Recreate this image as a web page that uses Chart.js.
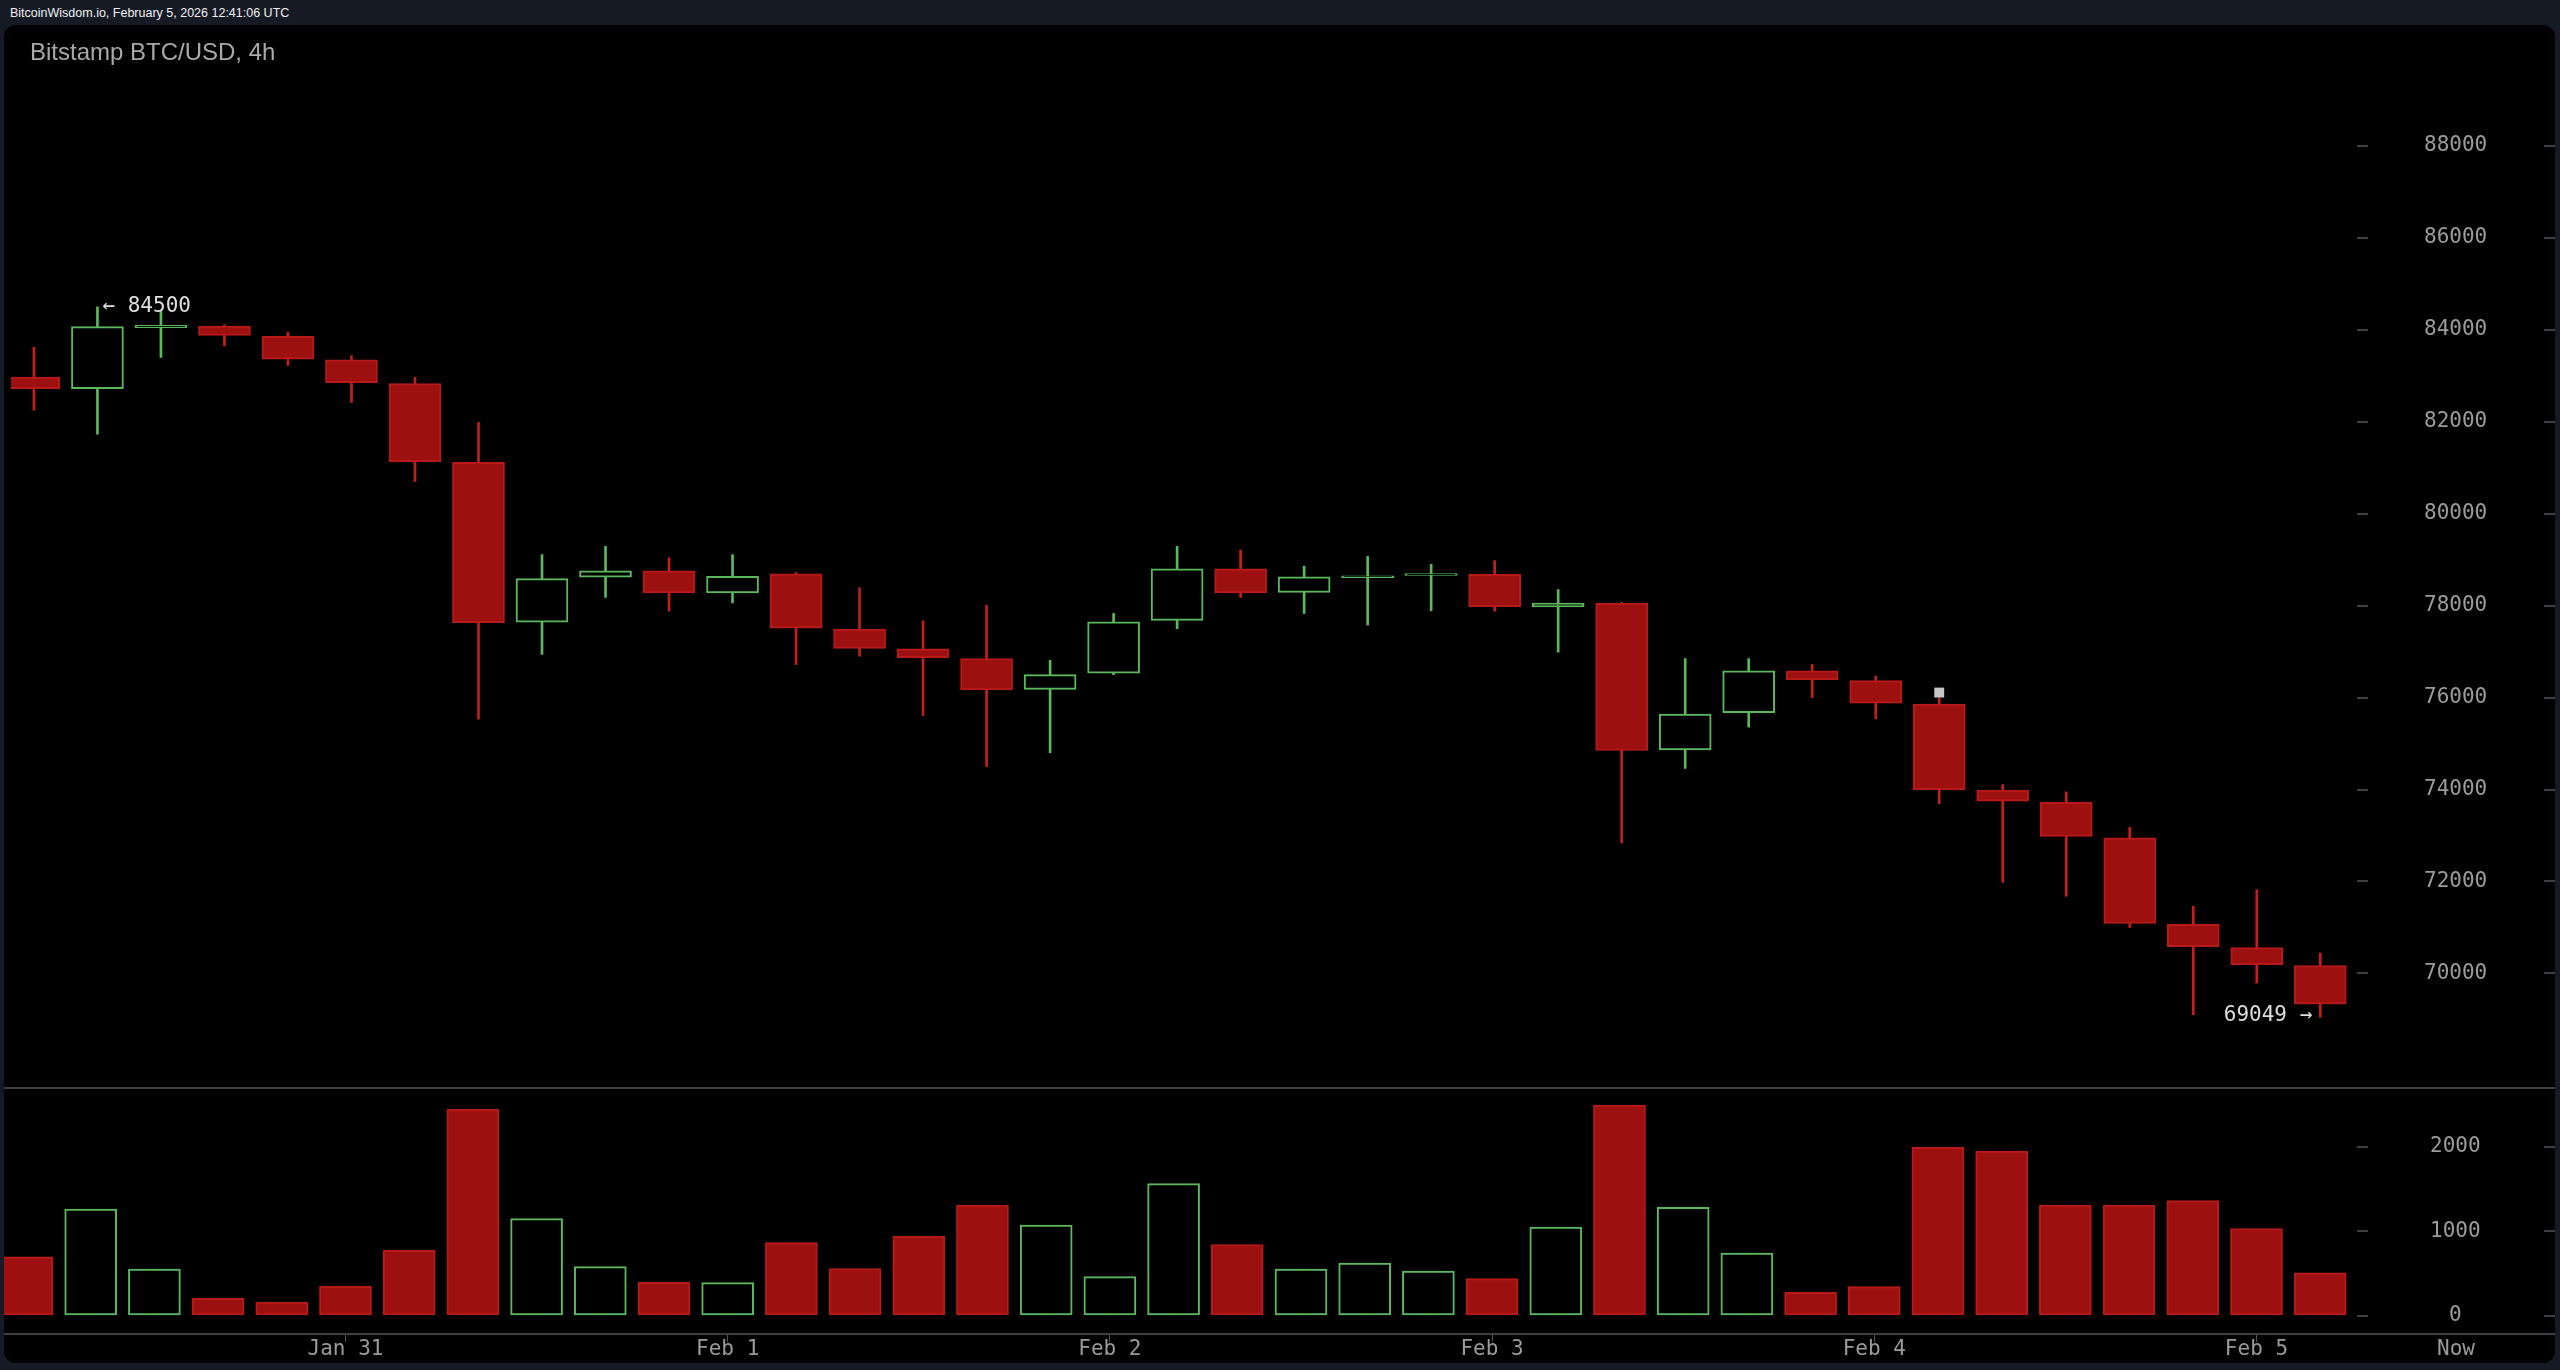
<!DOCTYPE html>
<html>
<head>
<meta charset="utf-8">
<title>Bitstamp BTC/USD, 4h</title>
<script src="https://cdn.jsdelivr.net/npm/chart.js@4.4.1/dist/chart.umd.min.js"></script>
<style>
  html, body { margin: 0; padding: 0; background: #161a25; overflow: hidden; }
  #stamp { position: absolute; left: 10px; top: 7px; font: 12.5px/13px "Liberation Sans", Arial, sans-serif; color: #f0f0f0; }
  #panel { position: absolute; left: 4px; top: 25px; width: 2551px; height: 1338px; background: #000; border-radius: 12px; overflow: hidden; }
  #panel canvas { position: absolute; left: 0; display: block; }
  #priceChart { top: 0; }
  #volChart { top: 1062px; }
  #title { position: absolute; left: 26px; top: 15px; font: 24px/24px "Liberation Sans", Arial, sans-serif; color: #a9a9a9; }
</style>
</head>
<body>
<div id="stamp">BitcoinWisdom.io, February 5, 2026 12:41:06 UTC</div>
<div id="panel">
  <canvas id="priceChart" width="2551" height="1062"></canvas>
  <canvas id="volChart" width="2551" height="276"></canvas>
  <div id="title">Bitstamp BTC/USD, 4h</div>
</div>
<script>
// 4h candles, UTC
const times = [
    "Jan 30 04:00", "Jan 30 08:00", "Jan 30 12:00", "Jan 30 16:00", "Jan 30 20:00",
    "Jan 31 00:00", "Jan 31 04:00", "Jan 31 08:00", "Jan 31 12:00", "Jan 31 16:00", "Jan 31 20:00",
    "Feb 1 00:00", "Feb 1 04:00", "Feb 1 08:00", "Feb 1 12:00", "Feb 1 16:00", "Feb 1 20:00",
    "Feb 2 00:00", "Feb 2 04:00", "Feb 2 08:00", "Feb 2 12:00", "Feb 2 16:00", "Feb 2 20:00",
    "Feb 3 00:00", "Feb 3 04:00", "Feb 3 08:00", "Feb 3 12:00", "Feb 3 16:00", "Feb 3 20:00",
    "Feb 4 00:00", "Feb 4 04:00", "Feb 4 08:00", "Feb 4 12:00", "Feb 4 16:00", "Feb 4 20:00",
    "Feb 5 00:00", "Feb 5 04:00"
];

const opens = [
    82970, 82720, 84050, 84080, 83860, 83350, 82830, 81120, 77640, 78620, 78760,
    78280, 78690, 77490, 77060, 76850, 76180, 76530, 77680, 78800, 78290, 78610,
    78660, 78680, 77975, 78050, 74860, 75670, 76580, 76370, 75860, 73990, 73720,
    72950, 71070, 70560, 70170
];
const highs = [
    83620, 84500, 84400, 84110, 83950, 83440, 82970, 81990, 79110, 79290, 79040,
    79110, 78720, 78390, 77670, 78010, 76810, 77830, 79290, 79210, 78860, 79070,
    78900, 78980, 78350, 78070, 76850, 76850, 76720, 76470, 76000, 74110, 73950,
    73180, 71460, 71820, 70440
];
const lows = [
    82250, 81730, 83400, 83650, 83230, 82420, 80700, 75530, 76940, 78180, 77880,
    78060, 76720, 76900, 75610, 74500, 74800, 76500, 77500, 78180, 77830, 77580,
    77890, 77880, 76990, 72840, 74460, 75360, 76000, 75540, 73690, 71980, 71680,
    71000, 69100, 69790, 69049
];
const closes = [
    82720, 84070, 84100, 83880, 83360, 82850, 81130, 77630, 78590, 78760, 78280,
    78640, 77510, 77070, 76870, 76170, 76500, 77650, 78800, 78280, 78630, 78650,
    78700, 77980, 78055, 74850, 75640, 76580, 76390, 75880, 74000, 73750, 72980,
    71090, 70580, 70190, 69330
];
const volumes = [
    700, 1264, 555, 209, 165, 350, 776, 2445, 1150, 583, 398,
    394, 866, 559, 941, 1311, 1075, 465, 1563, 842, 555, 626,
    531, 441, 1051, 2492, 1283, 744, 280, 346, 1992, 1949, 1311,
    1311, 1362, 1031, 511
];

// the little grey flag above the Feb 4 04:00 candle
const markers = [{ x: 30, y: 76110 }];

const dayTicks = [5, 11, 17, 23, 29, 35];
const dayLabels = ["Jan 31", "Feb 1", "Feb 2", "Feb 3", "Feb 4", "Feb 5"];
const priceTicks = [70000, 72000, 74000, 76000, 78000, 80000, 82000, 84000, 86000, 88000];
const volumeTicks = [0, 1000, 2000];

// COLOURS
const UP = "#5cb85c";
const DOWN_FILL = "#9d1010";
const DOWN_EDGE = "#b81a1a";
const DOWN_WICK = "#c41e1e";
const AXIS_GREY = "#3f3f3f";
const LABEL_GREY = "#9b9b9b";
const MONO = "'DejaVu Sans Mono', monospace";

Chart.defaults.font.family = MONO;

function isUp(i) {
    return closes[i] >= opens[i];
}

// shared x range so both panels line up (index units)
const X_MIN = -0.361;
const X_MAX = 36.578;

function hideScalePadding(s) {
    s.paddingTop = 0;
    s.paddingBottom = 0;
    s.paddingLeft = 0;
    s.paddingRight = 0;
}

function line(ctx, x1, y1, x2, y2) {
    ctx.beginPath();
    ctx.moveTo(x1, y1);
    ctx.lineTo(x2, y2);
    ctx.stroke();
}

// PRICE DECOR: right dashes + high/low labels
const priceDecor = {
    id: "priceDecor",
    afterDraw(chart) {
        let { ctx, width } = chart;
        let x = chart.scales.x;
        let y = chart.scales.y;
        ctx.save();
        ctx.strokeStyle = AXIS_GREY;
        ctx.lineWidth = 2;
        priceTicks.forEach(v => {
            let py = Math.round(y.getPixelForValue(v));
            line(ctx, width - 11, py, width, py);
        });

        let hi = Math.max(...highs);
        let lo = Math.min(...lows);
        let iHi = highs.indexOf(hi);
        let iLo = lows.indexOf(lo);
        ctx.fillStyle = "#dedede";
        ctx.font = "21px " + MONO;
        ctx.textBaseline = "middle";
        ctx.textAlign = "left";
        ctx.fillText("← " + hi, x.getPixelForValue(iHi) + 5, y.getPixelForValue(hi));
        ctx.textAlign = "right";
        ctx.fillText(lo + " →", x.getPixelForValue(iLo) - 8, y.getPixelForValue(lo) - 1.5);
        ctx.restore();
    }
};

// VOLUME DECOR: separator, axis line, right dashes, "Now"
const volumeDecor = {
    id: "volumeDecor",
    afterDraw(chart) {
        let { ctx, width, chartArea } = chart;
        let y = chart.scales.y;
        ctx.save();
        ctx.strokeStyle = AXIS_GREY;
        ctx.lineWidth = 2;
        line(ctx, 0, 1, width, 1);
        line(ctx, 0, chartArea.bottom, width, chartArea.bottom);
        volumeTicks.forEach(v => {
            let py = Math.round(y.getPixelForValue(v));
            line(ctx, width - 11, py, width, py);
        });
        ctx.fillStyle = LABEL_GREY;
        ctx.font = "21px " + MONO;
        ctx.textAlign = "center";
        ctx.textBaseline = "middle";
        ctx.fillText("Now", chartArea.right + 99, chartArea.bottom + 16);
        ctx.restore();
    }
};

// PRICE CHART
new Chart(document.getElementById("priceChart"), {
    type: "bar",
    data: {
        datasets: [
            {
                type: "scatter",
                label: "marker",
                order: -1,
                data: markers,
                pointStyle: "rect",
                pointRadius: 7,
                backgroundColor: "#c6c6c6",
                borderWidth: 0
            },
            {
                label: "body",
                order: 0,
                grouped: false,
                barThickness: 52,
                data: times.map((t, i) => ({ x: i, y: [opens[i], closes[i]] })),
                backgroundColor: c => isUp(c.dataIndex) ? "#000" : DOWN_FILL,
                borderColor: c => isUp(c.dataIndex) ? UP : DOWN_EDGE,
                borderWidth: 2,
                borderSkipped: false
            },
            {
                label: "wick",
                order: 1,
                grouped: false,
                barThickness: 2,
                data: times.map((t, i) => ({ x: i, y: [lows[i], highs[i]] })),
                backgroundColor: c => isUp(c.dataIndex) ? UP : DOWN_WICK,
                borderWidth: 0
            }
        ]
    },
    options: {
        responsive: false,
        animation: false,
        layout: { padding: 0 },
        plugins: {
            legend: { display: false },
            tooltip: { enabled: false }
        },
        scales: {
            x: { type: "linear", min: X_MIN, max: X_MAX, offset: false, display: false },
            y: {
                position: "right",
                min: 67682,
                max: 90479,
                afterBuildTicks: s => { s.ticks = priceTicks.map(v => ({ value: v })); },
                afterFit: s => { s.width = 198; hideScalePadding(s); },
                grid: { drawOnChartArea: false, drawTicks: true, tickLength: 11, color: AXIS_GREY, lineWidth: 2 },
                border: { display: false },
                ticks: {
                    callback: v => String(v),
                    color: LABEL_GREY,
                    font: { family: MONO, size: 21 },
                    padding: 56,
                    crossAlign: "center"
                }
            }
        }
    },
    plugins: [priceDecor]
});

// VOLUME CHART
new Chart(document.getElementById("volChart"), {
    type: "bar",
    data: {
        datasets: [{
            label: "volume",
            barThickness: 52,
            data: volumes.map((v, i) => ({ x: i, y: v })),
            backgroundColor: c => isUp(c.dataIndex) ? "#000" : DOWN_FILL,
            borderColor: c => isUp(c.dataIndex) ? UP : DOWN_EDGE,
            borderWidth: 2,
            borderSkipped: false
        }]
    },
    options: {
        responsive: false,
        animation: false,
        layout: { padding: 0 },
        plugins: {
            legend: { display: false },
            tooltip: { enabled: false }
        },
        scales: {
            x: {
                type: "linear",
                min: X_MIN,
                max: X_MAX,
                offset: false,
                position: "bottom",
                afterBuildTicks: s => { s.ticks = dayTicks.map(v => ({ value: v })); },
                afterFit: s => { s.height = 29; hideScalePadding(s); },
                grid: { offset: false, drawOnChartArea: false, drawTicks: true, tickLength: 8, color: "#555", lineWidth: 1 },
                border: { display: false },
                ticks: {
                    callback: v => dayLabels[dayTicks.indexOf(v)],
                    color: LABEL_GREY,
                    font: { family: MONO, size: 21 },
                    padding: -5,
                    maxRotation: 0,
                    autoSkip: false
                }
            },
            y: {
                position: "right",
                min: -213,
                max: 2705,
                afterBuildTicks: s => { s.ticks = volumeTicks.map(v => ({ value: v })); },
                afterFit: s => { s.width = 198; hideScalePadding(s); },
                grid: { drawOnChartArea: false, drawTicks: true, tickLength: 11, color: AXIS_GREY, lineWidth: 2 },
                border: { display: false },
                ticks: {
                    callback: v => String(v),
                    color: LABEL_GREY,
                    font: { family: MONO, size: 21 },
                    padding: 62,
                    crossAlign: "center"
                }
            }
        }
    },
    plugins: [volumeDecor]
});
</script>
</body>
</html>
